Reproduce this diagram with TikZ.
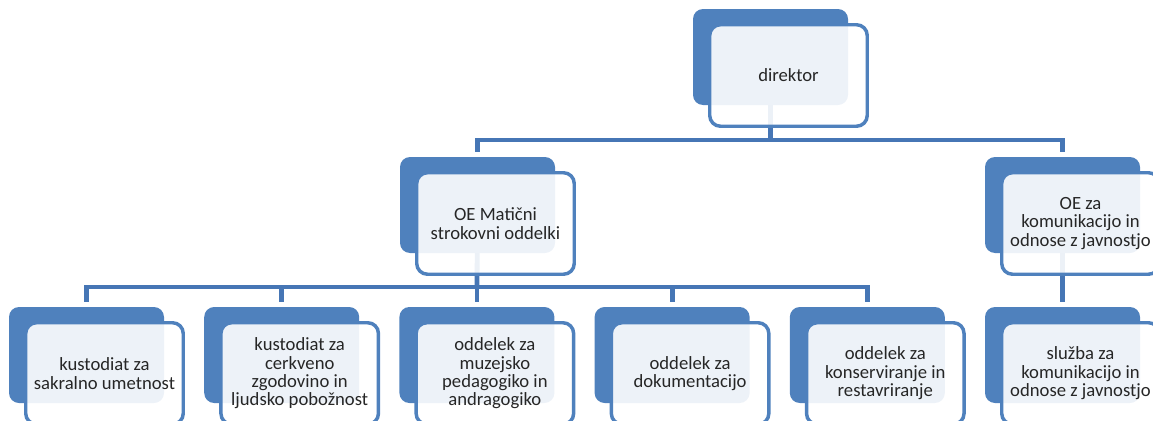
\documentclass[tikz,border=0pt]{standalone}
\usepackage{fontspec}
\setmainfont{Carlito}
\usetikzlibrary{calc}
\definecolor{acc}{HTML}{4F81BD}
\definecolor{connc}{HTML}{4676B5}
\definecolor{txt}{HTML}{262626}
\pgfdeclarelayer{bg}
\pgfsetlayers{bg,main}
\tikzset{
  backbox/.style={draw=none, fill=acc, rounded corners=7.5pt, minimum width={155*0.75pt}, minimum height={96*0.75pt}, anchor=north west, inner sep=0pt, outer sep=0pt},
  frontbox/.style={draw=acc, line width=2.6pt, fill=white, fill opacity=0.9, text opacity=1, rounded corners=8pt, minimum width={157.5*0.75pt}, minimum height={101.5*0.75pt}, anchor=north west, inner sep=0pt, align=center, font=\fontsize{14pt}{13.8pt}\selectfont, text=txt},
  conn/.style={draw=connc, line width=3.6pt},
}
\newcommand\orgunit[4]{%
  \node[backbox] (#1B) at (#2,#3) {};
  \node[frontbox] (#1) at (#2+15,#3+14) {#4};
}
\begin{document}
\begin{tikzpicture}[x=0.75pt,y=-0.75pt]
\useasboundingbox (0,0) rectangle (1153,421);
\clip (0,0) rectangle (1153,421);
\orgunit{dir}{693}{9}{direktor}
\orgunit{om}{400}{157}{OE Matični\\strokovni oddelki}
\orgunit{oe}{985}{157}{OE za\\komunikacijo in\\odnose z javnostjo}
\orgunit{ka}{9}{307}{kustodiat za\\sakralno umetnost}
\orgunit{kb}{204.2}{307}{kustodiat za\\cerkveno\\zgodovino in\\ljudsko pobožnost}
\orgunit{kc}{399.4}{307}{oddelek za\\muzejsko\\pedagogiko in\\andragogiko}
\orgunit{kd}{594.6}{307}{oddelek za\\dokumentacijo}
\orgunit{ke}{789.8}{307}{oddelek za\\konserviranje in\\restavriranje}
\orgunit{sl}{985}{307}{služba za\\komunikacijo in\\odnose z javnostjo}
\coordinate (bus1) at (770.5,140);
\coordinate (bus2) at (477,287);
\begin{pgfonlayer}{bg}
  \draw[conn] (dirB.center) -- (bus1);
  \draw[conn,shorten >=3.75pt] (bus1) -| (omB.north);
  \draw[conn,shorten >=3.75pt] (bus1) -| (oeB.north);
  \draw[conn] (omB.center) -- (bus2);
  \foreach \k in {ka,kb,kc,kd,ke}{
    \draw[conn,shorten >=3.75pt] (bus2) -| (\k B.north);
  }
  \draw[conn,shorten >=3.75pt] (oeB.center) -- (slB.north);
\end{pgfonlayer}
\end{tikzpicture}
\end{document}
